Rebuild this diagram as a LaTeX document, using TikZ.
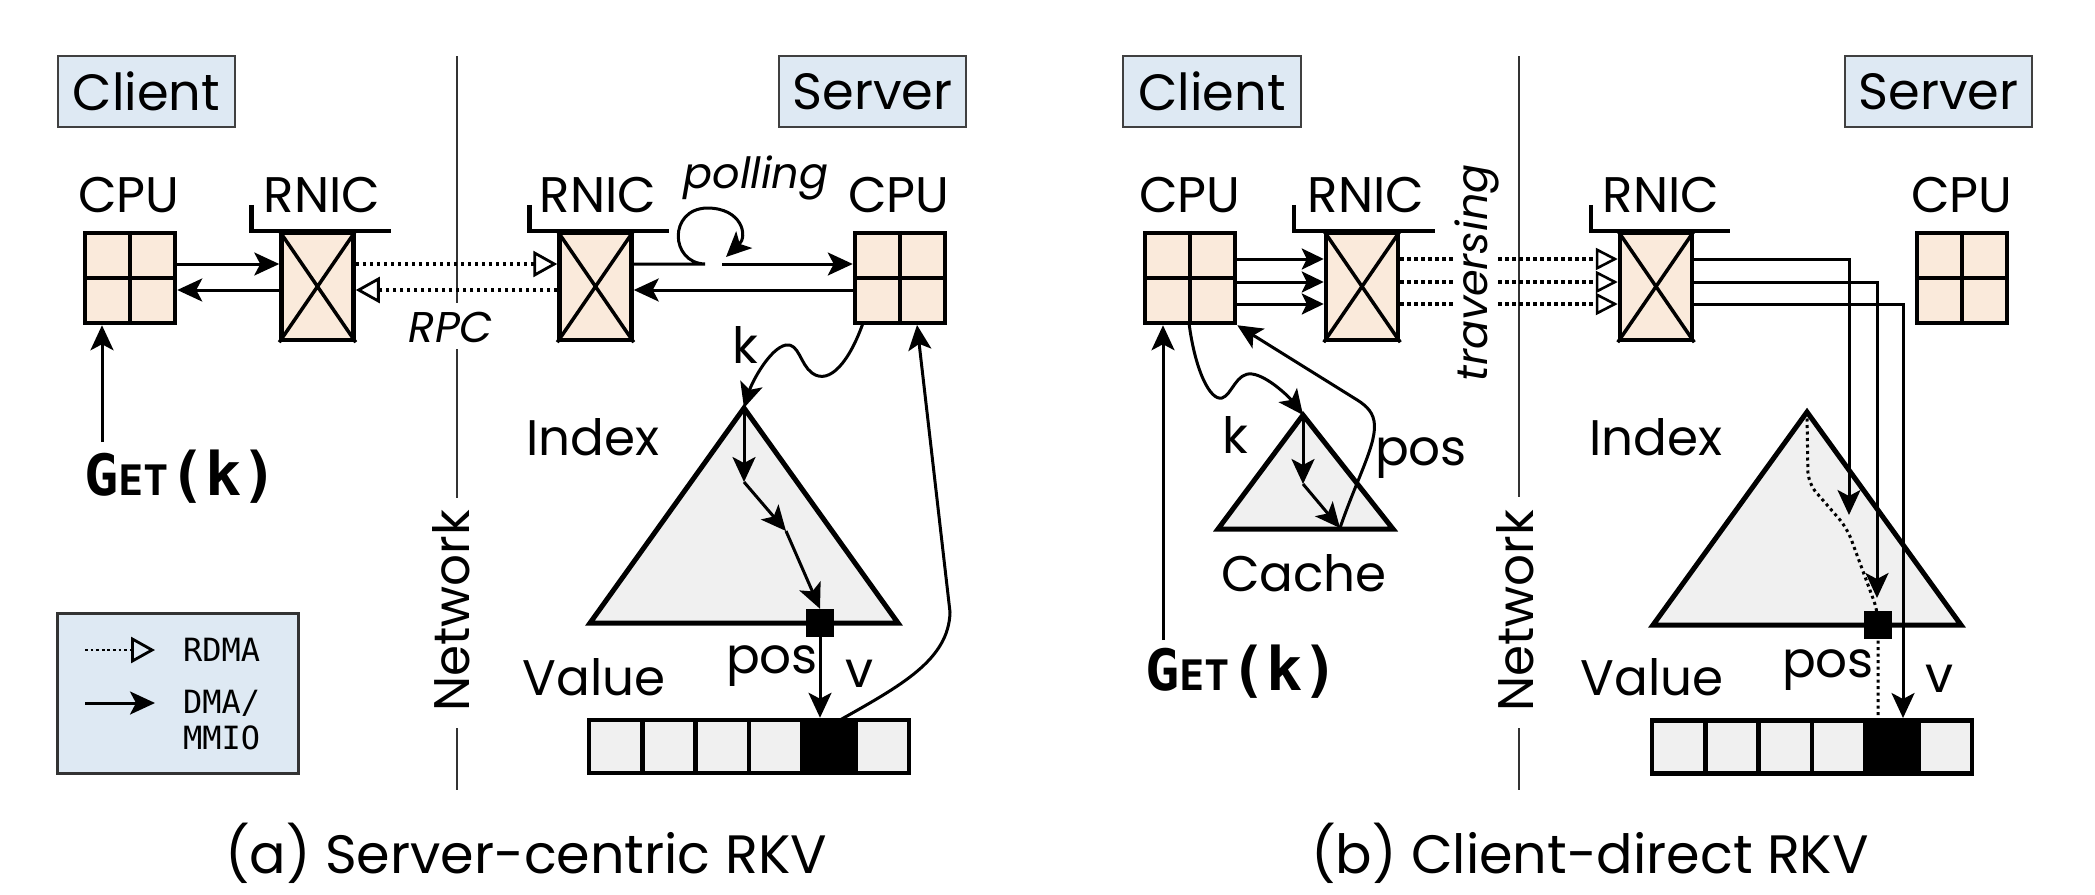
\documentclass[tikz,border=0pt]{standalone}
\usepackage{fontspec}
\setmainfont{Poppins}
\newfontfamily\monof{DejaVu Sans Mono}
\usetikzlibrary{arrows.meta,calc}
\definecolor{peach}{RGB}{250,234,219}
\definecolor{lblue}{RGB}{222,233,243}
\definecolor{trigray}{RGB}{240,240,240}
\begin{document}
\begin{tikzpicture}[x=1pt,y=-1pt,
 lab/.style={font=\fontsize{50}{50}\selectfont, inner sep=0pt, anchor=base},
 ilab/.style={font=\fontsize{43}{43}\selectfont\itshape, inner sep=0pt, anchor=base},
 hdr/.style={draw=black!75, line width=2pt, fill=lblue, minimum height=71pt, inner sep=0pt, font=\fontsize{51}{51}\selectfont},
 cpubox/.style={draw, line width=4.5pt, fill=peach, minimum width=90pt, minimum height=90pt, inner sep=0pt},
 rnicbox/.style={draw, line width=4.5pt, fill=peach, minimum width=72pt, minimum height=107pt, inner sep=0pt},
 thk/.style={line width=4.5pt},
 arr/.style={line width=3pt, -{Stealth[length=25pt,width=23pt,inset=6pt]}},
 rdma/.style={line width=3.5pt, dash pattern=on 3.5pt off 3.5pt, -{Triangle[open,length=24pt,width=26pt,line width=2.8pt]}},
 dotl/.style={line width=3.5pt, dash pattern=on 3.5pt off 3.5pt},
 netline/.style={line width=1.6pt, black!80},
 tribox/.style={draw, line width=5pt, fill=trigray, line join=miter},
 cell/.style={draw, line width=4.5pt, fill=trigray, minimum width=53.33pt, minimum height=53pt, inner sep=0pt},
 blk/.style={fill=black, minimum size=28pt, inner sep=0pt},
 capt/.style={font=\fontsize{54}{54}\selectfont, inner sep=0pt, anchor=base},
 mono/.style={font=\monof\fontsize{32}{32}\selectfont, inner sep=0pt, anchor=west},
 getf/.style={font=\monof\bfseries, inner sep=0pt, anchor=base west},
 legbox/.style={draw=black!80, line width=3pt, fill=lblue, minimum width=241pt, minimum height=160pt, inner sep=0pt}
]
\useasboundingbox (0,0) rectangle (2095,894);

% ================= panel (a) =================
\node[hdr, minimum width=177pt] (clientA) at (146.5,91.5) {Client};
\node[hdr, minimum width=187pt] (serverA) at (872.5,91.5) {Server};

% network line
\coordinate (na0) at (457,56);
\coordinate (na1) at (457,303);
\coordinate (na2) at (457,349);
\coordinate (na3) at (457,498);
\coordinate (na4) at (457,728);
\coordinate (na5) at (457,790);
\draw[netline] (na0) -- (na1) (na2) -- (na3) (na4) -- (na5);
\node[lab, anchor=center, rotate=90] (netA) at (451,611) {Network};

% CPU / RNIC
\node[cpubox] (cpuAc) at (130,278) {};
\draw[thk] (cpuAc.north) -- (cpuAc.south) (cpuAc.west) -- (cpuAc.east);
\node[lab] (cpuAcl) at (129,212) {CPU};

\node[rnicbox] (rnAc) at (317.5,286.5) {};
\draw[line width=3.5pt] (rnAc.north west) -- (rnAc.south east) (rnAc.north east) -- (rnAc.south west);
\draw[thk] ($(rnAc.north west)+(-28,-26)$) -- ($(rnAc.north west)+(-28,0)$) -- ($(rnAc.north east)+(35,0)$);
\node[lab] (rnAcl) at (322,212) {RNIC};

\node[rnicbox] (rnAs) at (595.5,286.5) {};
\draw[line width=3.5pt] (rnAs.north west) -- (rnAs.south east) (rnAs.north east) -- (rnAs.south west);
\draw[thk] ($(rnAs.north west)+(-28,-26)$) -- ($(rnAs.north west)+(-28,0)$) -- ($(rnAs.north east)+(35,0)$);
\node[lab] (rnAsl) at (598,212) {RNIC};

\node[cpubox] (cpuAs) at (900,278) {};
\draw[thk] (cpuAs.north) -- (cpuAs.south) (cpuAs.west) -- (cpuAs.east);
\node[lab] (cpuAsl) at (899,212) {CPU};

\coordinate (ya1) at (0,264);
\coordinate (ya2) at (0,290);
\draw[arr] (cpuAc.east |- ya1) -- (rnAc.west |- ya1);
\draw[arr] (rnAc.west |- ya2) -- (cpuAc.east |- ya2);
\draw[rdma] (rnAc.east |- ya1) -- (rnAs.west |- ya1);
\draw[rdma] (rnAs.west |- ya2) -- (rnAc.east |- ya2);
\node[ilab] (rpc) at (451,342) {RPC};

% polling loop
\coordinate (pl1) at (705,264);
\coordinate (pl2) at (722,264);
\draw[arr] (rnAs.east |- ya1) -- (pl1) .. controls (670,263) and (668,209) .. (707,208) .. controls (742,208) and (748,236) .. (726,257);
\draw[arr] (pl2) -- (cpuAs.west |- ya1);
\draw[arr] (cpuAs.west |- ya2) -- (rnAs.east |- ya2);
\node[ilab] (poll) at (756,188) {polling};

% GET
\coordinate (getAa) at (102,442);
\draw[arr] (getAa) -- (getAa |- cpuAc.south);
\node[getf] (getA) at (84,495) {\fontsize{57}{57}\selectfont G\fontsize{42}{42}\selectfont ET\fontsize{60}{60}\selectfont(k)};

% legend
\node[legbox] (leg) at (177.5,693) {};
\coordinate (lg1) at (85,650);
\coordinate (lg2) at (155,650);
\coordinate (lg3) at (85,703);
\coordinate (lg4) at (155,703);
\draw[rdma, line width=2.8pt, dash pattern=on 2.8pt off 2.8pt] (lg1) -- (lg2);
\draw[arr] (lg3) -- (lg4);
\node[mono] (lgt1) at (183,650) {RDMA};
\node[mono] (lgt2) at (183,703) {DMA/};
\node[mono] (lgt3) at (183,738) {MMIO};

% index triangle
\coordinate (apA) at (744,408);
\coordinate (blA) at (590,623);
\coordinate (brA) at (898,623);
\draw[tribox] (apA) -- (blA) -- (brA) -- cycle;
\node[lab] (idxA) at (593,455) {Index};
\coordinate (iA1) at (744,482);
\coordinate (iA2) at (786,531);
\node[blk] (sqA) at (820,623) {};
\draw[arr] (apA) -- (iA1);
\draw[arr] (iA1) -- (iA2);
\draw[arr] (iA2) -- (sqA.north);

% k wiggle
\draw[arr] (863,323) .. controls (850,360) and (830,386) .. (812,373) .. controls (800,364) and (799,343) .. (786,345) .. controls (770,348) and (752,382) .. (apA);
\node[lab] (kA) at (745,363) {k};

% value array
\foreach \i in {0,...,5} {
  \node[cell] (vA\i) at (615.67+53.33*\i,746.5) {};
}
\node[cell, fill=black] (vA4b) at (615.67+53.33*4,746.5) {};
\node[lab] (valA) at (594,695) {Value};
\draw[arr] (sqA.south) -- (sqA.south |- vA4.north);
\node[lab] (posA) at (772,673) {pos};
\node[lab] (vlA) at (860,687) {v};
\coordinate (vcA) at (840,720);
\draw[arr] (vcA) .. controls (900,686) and (949,660) .. (950,612) -- (917,325);

\node[capt] (captA) at (526,873) {(a) Server-centric RKV};

% ================= panel (b) =================
\node[hdr, minimum width=178pt] (clientB) at (1212,91.5) {Client};
\node[hdr, minimum width=187pt] (serverB) at (1938.5,91.5) {Server};

\coordinate (nb0) at (1519,56);
\coordinate (nb3) at (1519,497);
\coordinate (nb4) at (1519,728);
\coordinate (nb5) at (1519,790);
\draw[netline] (nb0) -- (nb3) (nb4) -- (nb5);
\node[lab, anchor=center, rotate=90] (netB) at (1515,611) {Network};

\node[cpubox] (cpuBc) at (1190,278) {};
\draw[thk] (cpuBc.north) -- (cpuBc.south) (cpuBc.west) -- (cpuBc.east);
\node[lab] (cpuBcl) at (1190,212) {CPU};

\node[rnicbox] (rnBc) at (1362,286.5) {};
\draw[line width=3.5pt] (rnBc.north west) -- (rnBc.south east) (rnBc.north east) -- (rnBc.south west);
\draw[thk] ($(rnBc.north west)+(-30,-26)$) -- ($(rnBc.north west)+(-30,0)$) -- ($(rnBc.north east)+(35,0)$);
\node[lab] (rnBcl) at (1366,212) {RNIC};

\node[rnicbox] (rnBs) at (1656,286.5) {};
\draw[line width=3.5pt] (rnBs.north west) -- (rnBs.south east) (rnBs.north east) -- (rnBs.south west);
\draw[thk] ($(rnBs.north west)+(-27,-26)$) -- ($(rnBs.north west)+(-27,0)$) -- ($(rnBs.north east)+(36,0)$);
\node[lab] (rnBsl) at (1661,212) {RNIC};

\node[cpubox] (cpuBs) at (1962,278) {};
\draw[thk] (cpuBs.north) -- (cpuBs.south) (cpuBs.west) -- (cpuBs.east);
\node[lab] (cpuBsl) at (1962,212) {CPU};

\coordinate (yb1) at (0,259);
\coordinate (yb2) at (0,282);
\coordinate (yb3) at (0,304);
\coordinate (tg1) at (1455,0);
\coordinate (tg2) at (1498,0);
\foreach \y in {yb1,yb2,yb3} {
  \draw[arr, -{Stealth[length=22pt,width=21pt,inset=5pt]}] (cpuBc.east |- \y) -- (rnBc.west |- \y);
  \draw[dotl] (rnBc.east |- \y) -- (tg1 |- \y);
  \draw[rdma, -{Triangle[open,length=22pt,width=22pt,line width=2.6pt]}] (tg2 |- \y) -- (rnBs.west |- \y);
}
\node[ilab, anchor=center, rotate=90] (trav) at (1477,273) {traversing};

% server side paths
\coordinate (xb1) at (1849,0);
\coordinate (xb2) at (1877,0);
\coordinate (xb3) at (1903,0);
\coordinate (eb1) at (1849,515);
\coordinate (eb2) at (1877,598);
\coordinate (eb3) at (1903,718);

% index b
\coordinate (apB) at (1807,412);
\coordinate (blB) at (1653,625);
\coordinate (brB) at (1961,625);
\draw[tribox] (apB) -- (blB) -- (brB) -- cycle;
\node[lab] (idxB) at (1656,455) {Index};

\foreach \i in {0,...,5} {
  \node[cell] (vB\i) at (1678.67+53.33*\i,747) {};
}
\node[cell, fill=black] (vB4b) at (1678.67+53.33*4,747) {};

\coordinate (dB1) at (1808,483);
\coordinate (dB2) at (1847,528);
\coordinate (dB3) at (1878,612);
\draw[line width=3pt, dash pattern=on 3pt off 3.5pt, rounded corners=12pt] (apB) -- (dB1) -- (dB2) -- (dB3) -- (dB3 |- vB4.north);

\draw[arr] (rnBs.east |- yb1) -- (xb1 |- yb1) -- (eb1);
\draw[arr] (rnBs.east |- yb2) -- (xb2 |- yb2) -- (eb2);
\draw[arr] (rnBs.east |- yb3) -- (xb3 |- yb3) -- (eb3);

\node[blk] (sqB) at (1878,625) {};
\node[lab] (valB) at (1652,695) {Value};
\node[lab] (posB) at (1828,677) {pos};
\node[lab] (vlB) at (1939,692) {v};

% cache
\coordinate (apC) at (1303,415);
\coordinate (blC) at (1218,529);
\coordinate (brC) at (1393,529);
\draw[tribox] (apC) -- (blC) -- (brC) -- cycle;
\coordinate (iC1) at (1303,484);
\coordinate (iC2) at (1340,528);
\draw[arr] (apC) -- (iC1);
\draw[arr] (iC1) -- (iC2);
\draw[arr] (1189,323) .. controls (1195,370) and (1210,401) .. (1222,398) .. controls (1232,395) and (1236,372) .. (1252,374) .. controls (1268,376) and (1290,398) .. (apC);
\draw[arr] (iC2) .. controls (1357,478) and (1378,442) .. (1374,421) .. controls (1372,410) and (1364,404) .. (1354,398) -- (cpuBc.south east);
\node[lab] (kB) at (1235,453) {k};
\node[lab] (posC) at (1421,465) {pos};
\node[lab] (cacheB) at (1304,591) {Cache};

% GET b
\coordinate (getBa) at (1163,640);
\draw[arr] (getBa) -- (getBa |- cpuBc.south);
\node[getf] (getB) at (1145,690) {\fontsize{57}{57}\selectfont G\fontsize{42}{42}\selectfont ET\fontsize{60}{60}\selectfont(k)};

\node[capt] (captB) at (1590,873) {(b) Client-direct RKV};
\end{tikzpicture}
\end{document}
